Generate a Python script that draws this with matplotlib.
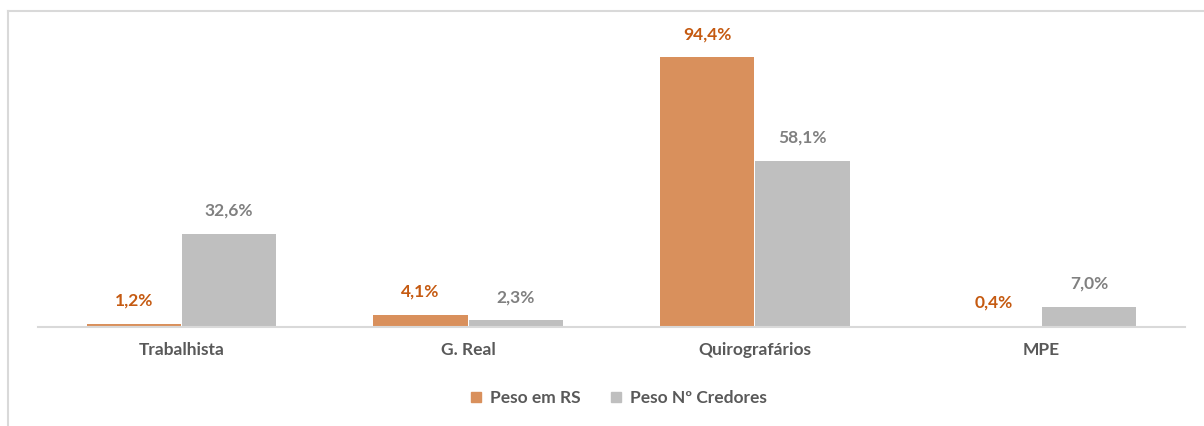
import matplotlib
matplotlib.use("Agg")
import matplotlib.pyplot as plt
import numpy as np
from matplotlib.lines import Line2D

categories = ["Trabalhista", "G. Real", "Quirografários", "MPE"]
peso_rs = [1.2, 4.1, 94.4, 0.4]
peso_credores = [32.6, 2.3, 58.1, 7.0]
series_names = ["Peso em RS", "Peso Nº Credores"]

c_orange = "#D9905C"
c_gray = "#BFBFBF"
t_orange = "#C55A11"
t_gray = "#808080"
t_dark = "#595959"

plt.rcParams['font.family'] = ['Lato', 'DejaVu Sans']
FS = 12.5

fig = plt.figure(figsize=(12.04, 4.26), dpi=100)
ax = fig.add_axes([38/1204, 1-327/426, (1185-38)/1204, (327-30)/426])

x = np.arange(len(categories))
w = 0.328
b1 = ax.bar(x - w/2 - 0.002, peso_rs, w, color=c_orange)
b2 = ax.bar(x + w/2 + 0.002, peso_credores, w, color=c_gray)

def fmt(v):
    return f"{v:.1f}%".replace(".", ",")

for bars, vals, col in [(b1, peso_rs, t_orange), (b2, peso_credores, t_gray)]:
    for r, v in zip(bars, vals):
        ax.annotate(fmt(v), (r.get_x() + r.get_width()/2, r.get_height()),
                    xytext=(0, 11), textcoords="offset points",
                    ha="center", va="bottom", fontsize=FS,
                    fontweight="bold", color=col)

ax.set_xlim(-0.5, len(categories) - 0.5)
ax.set_ylim(0, 104)
ax.set_yticks([])
ax.set_xticks(x)
ax.set_xticklabels(categories, fontsize=FS, fontweight="bold", color=t_dark)
ax.tick_params(axis="x", length=0, pad=11)
for s in ["top", "right", "left"]:
    ax.spines[s].set_visible(False)
ax.spines["bottom"].set_color("#D9D9D9")
ax.spines["bottom"].set_linewidth(1.5)

handles = [Line2D([], [], marker="s", linestyle="", markersize=7, color=c_orange),
           Line2D([], [], marker="s", linestyle="", markersize=7, color=c_gray)]
leg = fig.legend(handles, series_names, loc="center", bbox_to_anchor=(618/1204, 1-398/426),
                 ncol=2, frameon=False, handlelength=0.8, handletextpad=0.4, columnspacing=1.6,
                 prop={"size": FS, "weight": "bold"})
for t in leg.get_texts():
    t.set_color(t_dark)

# outer frame lines (top and left visible)
fig.add_artist(Line2D([8/1204, 1], [1-11/426, 1-11/426], color="#D9D9D9", lw=1.5, transform=fig.transFigure))
fig.add_artist(Line2D([8/1204, 8/1204], [0, 1-11/426], color="#D9D9D9", lw=1.5, transform=fig.transFigure))

fig.savefig("out.png", dpi=100)
